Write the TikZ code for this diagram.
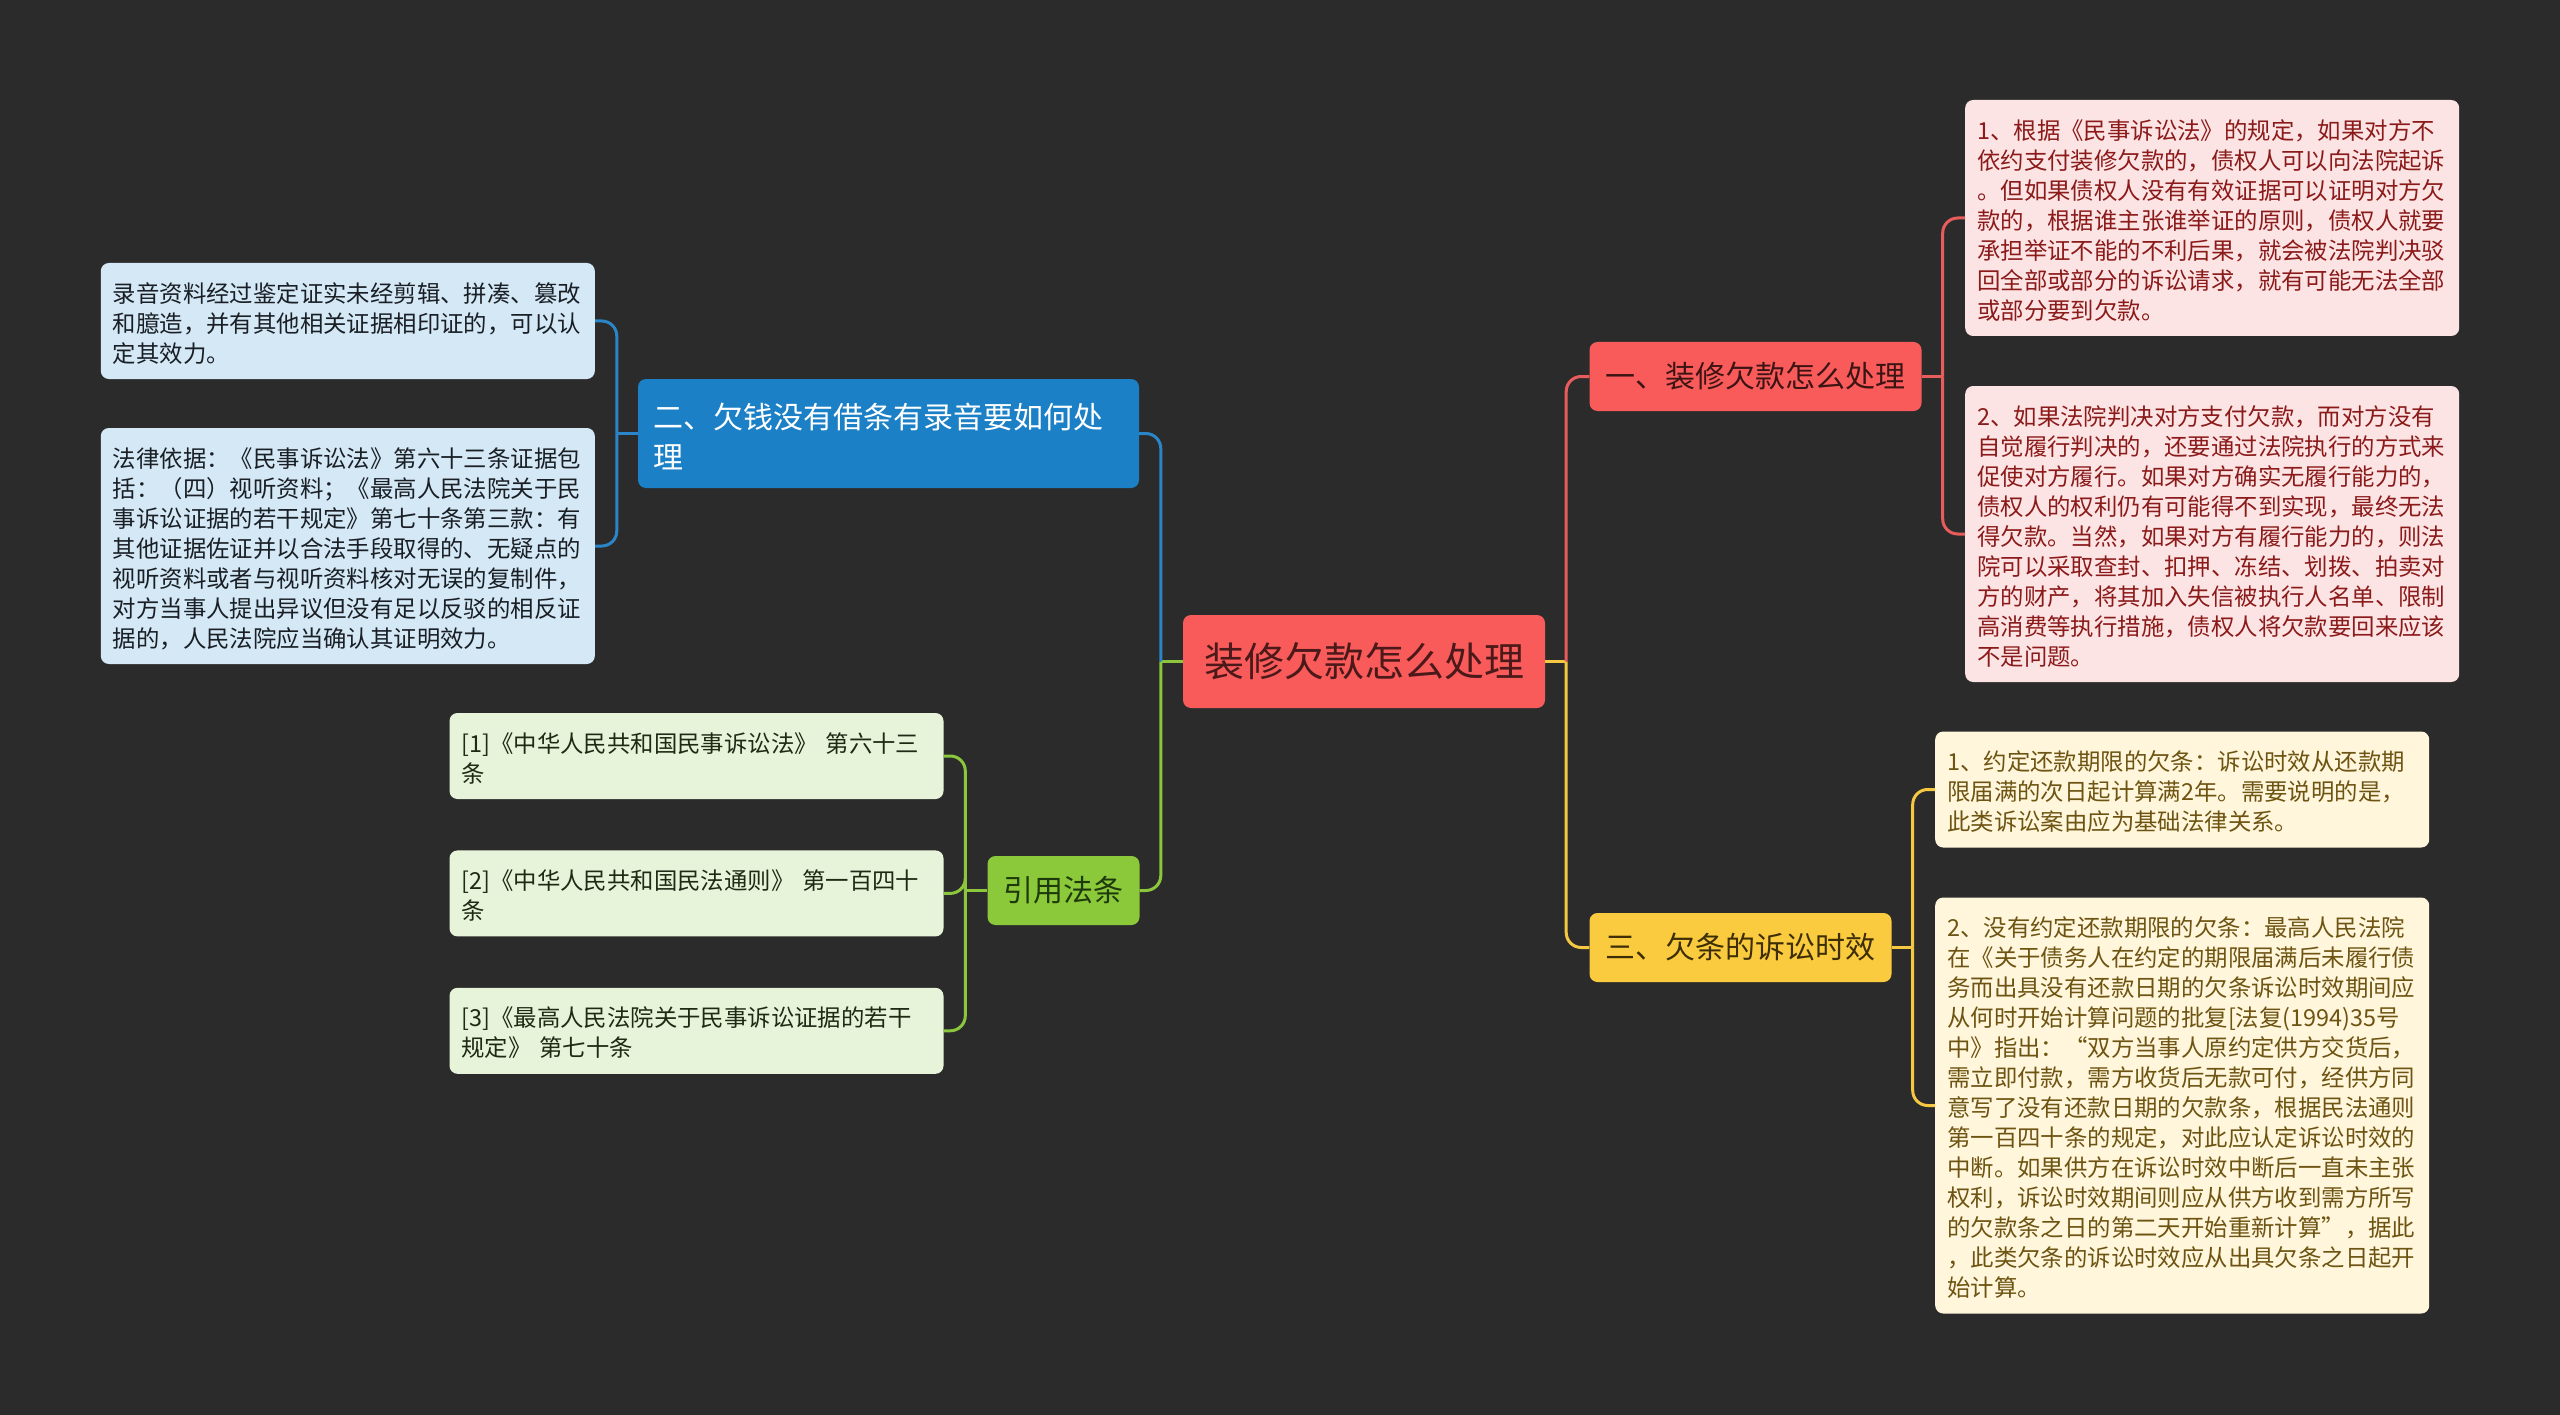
\documentclass[tikz,border=0pt]{standalone}
\usepackage{fontspec}
\setmainfont{Noto Sans CJK SC}
\usepackage{xcolor}
\usetikzlibrary{positioning,chains}

\definecolor{bgdark}{HTML}{2B2B2B}
\definecolor{redmain}{HTML}{F95B5B}
\definecolor{rootink}{HTML}{4B1919}
\definecolor{redink}{HTML}{3D1414}
\definecolor{redleaf}{HTML}{FDE4E4}
\definecolor{redleafink}{HTML}{8B1A1A}
\definecolor{redline}{HTML}{E85C5C}
\definecolor{bluemain}{HTML}{1C80C6}
\definecolor{blueleaf}{HTML}{D4E8F5}
\definecolor{blueleafink}{HTML}{1A1F26}
\definecolor{blueline}{HTML}{2A86C8}
\definecolor{yellowmain}{HTML}{FBCB3F}
\definecolor{yellowink}{HTML}{3D2E05}
\definecolor{yellowleaf}{HTML}{FFF6DB}
\definecolor{yellowleafink}{HTML}{6E5412}
\definecolor{yellowline}{HTML}{F5C842}
\definecolor{greenmain}{HTML}{8BC93A}
\definecolor{greenink}{HTML}{1E3A0C}
\definecolor{greenleaf}{HTML}{E8F4D9}
\definecolor{greenleafink}{HTML}{1E2A14}
\definecolor{greenline}{HTML}{8BC63C}

\newcommand\upstrut{\leavevmode\vrule height .87\baselineskip depth 0pt width 0pt}
\newcommand\downstrut{\vrule height 0pt depth .13\baselineskip width 0pt}

\begin{document}
\begin{tikzpicture}[x=1pt,y=-1pt,
  every node/.style={rounded corners=8pt, align=left},
  Rootnode/.style={fill=redmain, text=rootink, font=\fontsize{40}{48}\selectfont, inner xsep=21pt, minimum height=93pt},
  Topicnode/.style={font=\fontsize{30}{40}\selectfont, inner xsep=16pt, minimum height=69pt},
  Leafnode/.style={font=\fontsize{23.4}{30}\selectfont, text width=470pt, inner xsep=12pt, inner ysep=13pt,
    execute at begin node=\upstrut, execute at end node=\downstrut},
  Rlink/.style={draw=redline, line width=3pt, rounded corners=15pt},
  Blink/.style={draw=blueline, line width=3pt, rounded corners=15pt},
  Ylink/.style={draw=yellowline, line width=3pt, rounded corners=15pt},
  Glink/.style={draw=greenline, line width=3pt, rounded corners=15pt}
]

\fill[bgdark] (0,0) rectangle (2560,1415);

% the centre
\node[Rootnode] (root) at (1364,661.5) {装修欠款怎么处理};

% the topics
\node[Topicnode, fill=redmain, text=redink] (debt) at (1755.5,376.5) {一、装修欠款怎么处理};
\node[Topicnode, fill=yellowmain, text=yellowink] (limit) at (1740.5,947.5) {三、欠条的诉讼时效};
\node[Topicnode, fill=bluemain, text=white, text width=470pt, inner xsep=15.5pt, inner ysep=14.5pt,
  execute at begin node=\upstrut, execute at end node=\downstrut] (record) at (888.5,433.5)
  {二、欠钱没有借条有录音要如何处\\理};
\node[Topicnode, fill=greenmain, text=greenink] (laws) at (1063.5,890.5) {引用法条};

% the leaves of debt
\node[Leafnode, fill=redleaf, text=redleafink, anchor=west] (debt1) at (1965,218)
  {1、根据《民事诉讼法》的规定，如果对方不\\
   依约支付装修欠款的，债权人可以向法院起诉\\
   。但如果债权人没有有效证据可以证明对方欠\\
   款的，根据谁主张谁举证的原则，债权人就要\\
   承担举证不能的不利后果，就会被法院判决驳\\
   回全部或部分的诉讼请求，就有可能无法全部\\
   或部分要到欠款。};
\node[Leafnode, fill=redleaf, text=redleafink, anchor=west] (debt2) at (1965,534)
  {2、如果法院判决对方支付欠款，而对方没有\\
   自觉履行判决的，还要通过法院执行的方式来\\
   促使对方履行。如果对方确实无履行能力的，\\
   债权人的权利仍有可能得不到实现，最终无法\\
   得欠款。当然，如果对方有履行能力的，则法\\
   院可以采取查封、扣押、冻结、划拨、拍卖对\\
   方的财产，将其加入失信被执行人名单、限制\\
   高消费等执行措施，债权人将欠款要回来应该\\
   不是问题。};

% the leaves of limit
\node[Leafnode, fill=yellowleaf, text=yellowleafink, anchor=west] (limit1) at (1935,789.5)
  {1、约定还款期限的欠条：诉讼时效从还款期\\
   限届满的次日起计算满2年。需要说明的是，\\
   此类诉讼案由应为基础法律关系。};
\node[Leafnode, fill=yellowleaf, text=yellowleafink, anchor=west] (limit2) at (1935,1105.5)
  {2、没有约定还款期限的欠条：最高人民法院\\
   在《关于债务人在约定的期限届满后未履行债\\
   务而出具没有还款日期的欠条诉讼时效期间应\\
   从何时开始计算问题的批复[法复(1994)35号\\
   中》指出：“双方当事人原约定供方交货后，\\
   需立即付款，需方收货后无款可付，经供方同\\
   意写了没有还款日期的欠款条，根据民法通则\\
   第一百四十条的规定，对此应认定诉讼时效的\\
   中断。如果供方在诉讼时效中断后一直未主张\\
   权利，诉讼时效期间则应从供方收到需方所写\\
   的欠款条之日的第二天开始重新计算”，据此\\
   ，此类欠条的诉讼时效应从出具欠条之日起开\\
   始计算。};

% the leaves of record
\node[Leafnode, fill=blueleaf, text=blueleafink, anchor=east] (record1) at (595,321)
  {录音资料经过鉴定证实未经剪辑、拼凑、篡改\\
   和臆造，并有其他相关证据相印证的，可以认\\
   定其效力。};
\node[Leafnode, fill=blueleaf, text=blueleafink, anchor=east] (record2) at (595,546)
  {法律依据：《民事诉讼法》第六十三条证据包\\
   括：（四）视听资料；《最高人民法院关于民\\
   事诉讼证据的若干规定》第七十条第三款：有\\
   其他证据佐证并以合法手段取得的、无疑点的\\
   视听资料或者与视听资料核对无误的复制件，\\
   对方当事人提出异议但没有足以反驳的相反证\\
   据的，人民法院应当确认其证明效力。};

% the leaves of laws
\begin{scope}[shift={(696.5,756)},start chain=going below,node distance=51pt]
\foreach \i/\t in {1/{[1]《中华人民共和国民事诉讼法》 第六十三\\条},
                   2/{[2]《中华人民共和国民法通则》 第一百四十\\条},
                   3/{[3]《最高人民法院关于民事诉讼证据的若干\\规定》 第七十条}}
  \node[Leafnode, fill=greenleaf, text=greenleafink, on chain] (laws\i) {\t};
\end{scope}

% the trunks
\path (root.west) ++(-22,0) coordinate (rootL);
\path (root.east) ++(21,0) coordinate (rootR);
\path (debt.east) ++(21,0) coordinate (debtT);
\path (limit.east) ++(21,0) coordinate (limitT);
\path (record.west) ++(-21,0) coordinate (recordT);
\path (laws.west) ++(-22,0) coordinate (lawsT);

% the edges
\draw[Glink] (root.west) -- (rootL);
\draw[Blink] (record.east) -| (rootL);
\draw[Glink] (laws.east) -| (rootL);
\draw[Ylink] (root.east) -- (rootR);
\draw[Rlink] (debt.west) -| (rootR);
\draw[Ylink] (limit.west) -| (rootR);

\draw[Rlink] (debt.east) -- (debtT);
\draw[Rlink] (debt1.west) -| (debtT);
\draw[Rlink] (debt2.west) -| (debtT);

\draw[Ylink] (limit.east) -- (limitT);
\draw[Ylink] (limit1.west) -| (limitT);
\draw[Ylink] (limit2.west) -| (limitT);

\draw[Blink] (record.west) -- (recordT);
\draw[Blink] (record1.east) -| (recordT);
\draw[Blink] (record2.east) -| (recordT);

\draw[Glink] (laws.west) -- (lawsT);
\foreach \i in {1,2,3}
  \draw[Glink] (laws\i.east) -| (lawsT);

\end{tikzpicture}
\end{document}
